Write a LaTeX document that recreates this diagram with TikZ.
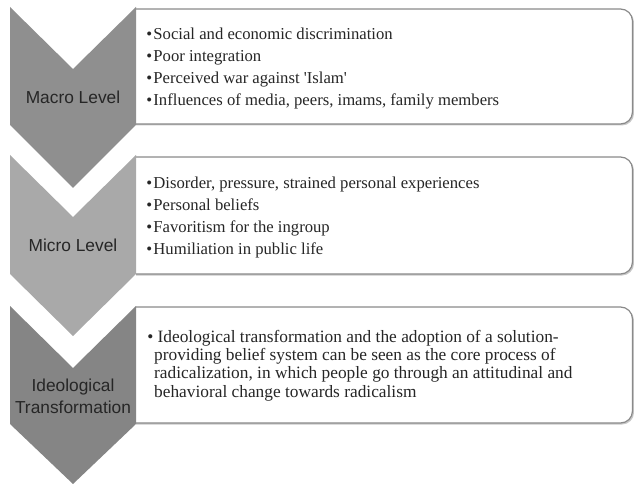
\documentclass[tikz,border=0pt]{standalone}
\usepackage{fontspec}
\setmainfont{Liberation Serif}
\newfontfamily\lvlfont{Liberation Sans}
\definecolor{macrogray}{HTML}{8F8F8F}
\definecolor{microgray}{HTML}{A9A9A9}
\definecolor{ideogray}{HTML}{858585}
\definecolor{boxline}{HTML}{8A8A8A}
\begin{document}
\begin{tikzpicture}[x=0.75pt,y=-0.75pt]
\tikzstyle{every node}+=[inner sep=0pt]
\tikzstyle{box}=[draw=boxline, line width=0.9pt, fill=white, rounded corners=9pt]
\tikzstyle{boxshadow}=[fill=black!22, rounded corners=9pt]
\tikzstyle{level}=[font=\lvlfont\fontsize{13}{16.5}\selectfont, text=black!85, align=center]
\tikzstyle{items}=[anchor=west, align=left, text=black!85]
\useasboundingbox (0,0) rectangle (634,484);
% text boxes, square on the left where the chevrons meet them
\begin{scope}
\clip (136,0) rectangle (634,484);
\fill [boxshadow] (112,10.5) rectangle (634,125.5);
\draw [box] (110,9) rectangle (632.5,124);
\fill [boxshadow] (112,158.5) rectangle (634,275.5);
\draw [box] (110,157) rectangle (632.5,274);
\fill [boxshadow] (112,308.5) rectangle (634,424.5);
\draw [box] (110,307) rectangle (632.5,423);
\end{scope}
% chevrons
\fill [macrogray] (10,7) -- (73,69) -- (136,7) -- (136,125) -- (73,188) -- (10,125) -- cycle;
\fill [microgray] (10,155) -- (73,217) -- (136,155) -- (136,274) -- (73,336) -- (10,274) -- cycle;
\fill [ideogray] (10,306) -- (73,368) -- (136,306) -- (136,424) -- (73,484) -- (10,424) -- cycle;
\node [level] (macro) at (73,97) {Macro Level};
\node [level] (micro) at (73,245) {Micro Level};
\node [level] (ideo) at (73,396) {Ideological\\Transformation};
% bullet lists
\node [items, font=\fontsize{12.5}{16.7}\selectfont] (macrolist) at (146,68.5) {%
\textbullet\hspace{1pt}Social and economic discrimination\\
\textbullet\hspace{1pt}Poor integration\\
\textbullet\hspace{1pt}Perceived war against \textquotesingle Islam\textquotesingle\\
\textbullet\hspace{1pt}Influences of media, peers, imams, family members};
\node [items, font=\fontsize{12.5}{16.7}\selectfont] (microlist) at (146,217.5) {%
\textbullet\hspace{1pt}Disorder, pressure, strained personal experiences\\
\textbullet\hspace{1pt}Personal beliefs\\
\textbullet\hspace{1pt}Favoritism for the ingroup\\
\textbullet\hspace{1pt}Humiliation in public life};
\node [items, font=\fontsize{13}{13.7}\selectfont] (ideolist) at (147,365.5) {%
\textbullet\ Ideological transformation and the adoption of a solution-\\
\hspace*{5.2pt}providing belief system can be seen as the core process of\\
\hspace*{5.2pt}radicalization, in which people go through an attitudinal and\\
\hspace*{5.2pt}behavioral change towards radicalism};
\end{tikzpicture}
\end{document}
